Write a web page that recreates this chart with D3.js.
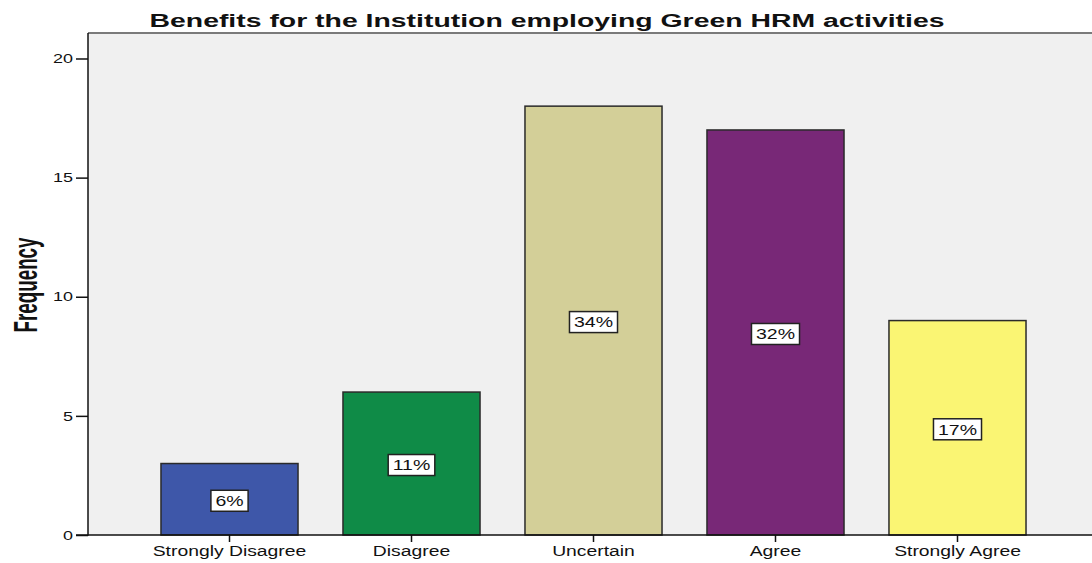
<!DOCTYPE html>
<html>
<head>
<meta charset="utf-8">
<script src="https://cdn.jsdelivr.net/npm/d3@7"></script>
<style>
  html, body { margin: 0; padding: 0; background: #ffffff; }
  svg { display: block; }
  text { font-family: "Liberation Sans", Arial, sans-serif; fill: #111; }
</style>
</head>
<body>
<svg id="chart" width="1092" height="563"></svg>
<script>
// Survey responses: frequency per answer category
const categories = ["Strongly Disagree", "Disagree", "Uncertain", "Agree", "Strongly Agree"];
const frequencies = [3, 6, 18, 17, 9];
const percentLabels = ["6%", "11%", "34%", "32%", "17%"];
const barColors = ["#3e57a9", "#0f8b47", "#d3cf98", "#782877", "#faf573"];
const yTicks = [0, 5, 10, 15, 20];
const chartTitle = "Benefits for the Institution employing Green HRM activities";
const yTitle = "Frequency";

const svg = d3.select("#chart");
const W = 1092, H = 563;
const plot = { left: 88, top: 33, bottom: 535, right: 1099 };

const y = d3.scaleLinear().domain([0, 21.07]).range([plot.bottom, plot.top]);
const x = d3.scaleBand()
  .domain(categories)
  .range([plot.left, plot.right])
  .paddingInner(0.247)
  .paddingOuter(0.401);

// widen glyphs horizontally like the original renderer
function stretch(sel, k) {
  sel.each(function () {
    const w = this.getComputedTextLength();
    d3.select(this).attr("textLength", w * k).attr("lengthAdjust", "spacingAndGlyphs");
  });
}

// plot background
svg.append("rect")
  .attr("x", plot.left).attr("y", plot.top)
  .attr("width", W - plot.left).attr("height", plot.bottom - plot.top)
  .attr("fill", "#f0f0f0");

// top frame line
svg.append("line")
  .attr("x1", plot.left).attr("x2", W)
  .attr("y1", plot.top).attr("y2", plot.top)
  .attr("stroke", "#7a7a7a").attr("stroke-width", 2);

// bars
svg.append("g").selectAll("rect")
  .data(categories)
  .join("rect")
  .attr("x", d => x(d))
  .attr("y", (d, i) => y(frequencies[i]))
  .attr("width", x.bandwidth())
  .attr("height", (d, i) => y(0) - y(frequencies[i]))
  .attr("fill", (d, i) => barColors[i])
  .attr("stroke", "#2a2a2a")
  .attr("stroke-width", 1.5);

// y axis
const yAxis = svg.append("g")
  .attr("transform", `translate(${plot.left},0)`)
  .call(d3.axisLeft(y).tickValues(yTicks).tickSize(12).tickPadding(3).tickSizeOuter(0));
yAxis.select(".domain").remove();
yAxis.selectAll(".tick line").attr("stroke", "#111").attr("stroke-width", 1.5);
yAxis.selectAll(".tick text").attr("font-size", 13).attr("fill", "#111")
  .style("font-family", "'Liberation Sans', Arial, sans-serif");
stretch(yAxis.selectAll(".tick text"), 1.38);

svg.append("line")
  .attr("x1", plot.left).attr("x2", plot.left)
  .attr("y1", plot.top).attr("y2", plot.bottom + 0.75)
  .attr("stroke", "#111").attr("stroke-width", 1.5);

// x axis
const xAxis = svg.append("g")
  .attr("transform", `translate(0,${plot.bottom})`)
  .call(d3.axisBottom(x).tickSize(7).tickPadding(4).tickSizeOuter(0));
xAxis.select(".domain").remove();
xAxis.selectAll(".tick line").attr("stroke", "#111").attr("stroke-width", 1.5);
xAxis.selectAll(".tick text").attr("font-size", 14).attr("fill", "#111")
  .style("font-family", "'Liberation Sans', Arial, sans-serif");
stretch(xAxis.selectAll(".tick text"), 1.38);

svg.append("line")
  .attr("x1", plot.left - 12).attr("x2", W)
  .attr("y1", plot.bottom).attr("y2", plot.bottom)
  .attr("stroke", "#111").attr("stroke-width", 1.5);

// percentage labels in white boxes at mid-bar
const lab = svg.append("g").selectAll("g")
  .data(categories)
  .join("g")
  .attr("transform", (d, i) => `translate(${x(d) + x.bandwidth() / 2},${y(frequencies[i] / 2) + 1.5})`);
const labBox = lab.append("rect")
  .attr("fill", "#ffffff")
  .attr("stroke", "#222")
  .attr("stroke-width", 1.5);
const labText = lab.append("text")
  .attr("text-anchor", "middle")
  .attr("dy", "0.36em")
  .attr("font-size", 15)
  .text((d, i) => percentLabels[i]);
stretch(labText, 1.3);
labText.each(function (d, i) {
  const w = +this.getAttribute("textLength");
  d3.select(labBox.nodes()[i])
    .attr("x", -(w + 9) / 2).attr("y", -10.5)
    .attr("width", w + 9).attr("height", 21);
});

// chart title
const title = svg.append("text")
  .attr("x", 547).attr("y", 27)
  .attr("text-anchor", "middle")
  .attr("font-size", 18)
  .attr("font-weight", "bold")
  .text(chartTitle)
  .attr("textLength", 795)
  .attr("lengthAdjust", "spacingAndGlyphs");

// y axis title
svg.append("text")
  .attr("transform", "translate(36.5,285) rotate(-90)")
  .attr("text-anchor", "middle")
  .attr("font-size", 33)
  .attr("font-weight", "bold")
  .text(yTitle)
  .attr("textLength", 95)
  .attr("lengthAdjust", "spacingAndGlyphs");
</script>
</body>
</html>
